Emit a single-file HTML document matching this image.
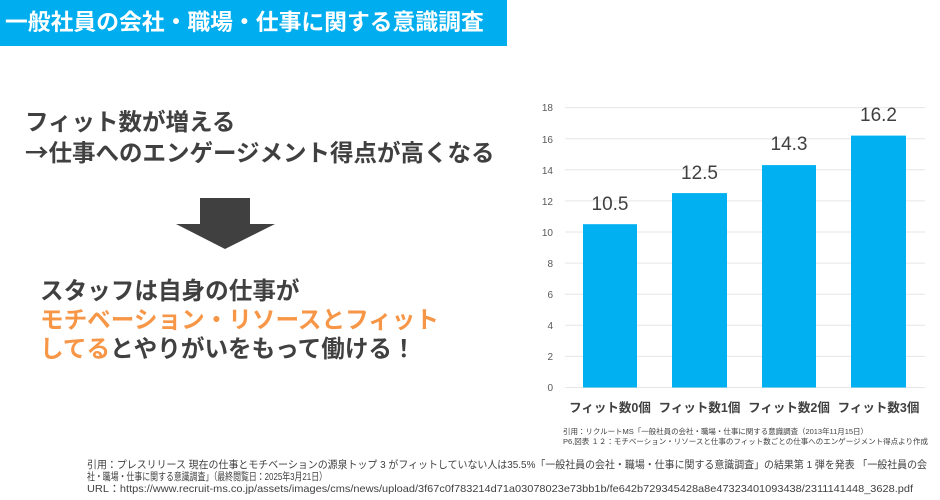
<!DOCTYPE html>
<html><head><meta charset="utf-8"><style>
body{margin:0;width:940px;height:500px;background:#fff;position:relative;overflow:hidden;font-family:"Liberation Sans","Noto Sans CJK JP",sans-serif;}
.a{position:absolute;white-space:nowrap;}
</style></head><body>
<div class="a" style="left:0;top:0;width:507px;height:46px;background:#00aeef;"></div>
<div class="a" style="left:5px;top:5px;font-size:22.8px;line-height:34px;color:#fff;font-weight:bold;">一般社員の会社・職場・仕事に関する意識調査</div>
<div class="a" style="left:25px;top:108px;font-size:23.5px;line-height:29px;color:#404040;font-weight:bold;">フィット数が増える<br><span style="font-family:'Noto Sans CJK JP',sans-serif">→</span>仕事へのエンゲージメント得点が高くなる</div>
<svg class="a" style="left:0;top:0" width="940" height="500">
<polygon points="200,198 250,198 250,224 275,224 225,249 176,224 200,224" fill="#404040"/>
<g stroke="#e6e6e6" stroke-width="1">
<line x1="565" x2="925" y1="387.5" y2="387.5"/><line x1="565" x2="925" y1="356.4" y2="356.4"/><line x1="565" x2="925" y1="325.3" y2="325.3"/><line x1="565" x2="925" y1="294.2" y2="294.2"/><line x1="565" x2="925" y1="263.1" y2="263.1"/><line x1="565" x2="925" y1="232" y2="232"/><line x1="565" x2="925" y1="200.9" y2="200.9"/><line x1="565" x2="925" y1="169.8" y2="169.8"/><line x1="565" x2="925" y1="138.7" y2="138.7"/><line x1="565" x2="925" y1="107.6" y2="107.6"/>
</g>
<g font-size="10" fill="#595959" text-anchor="end" font-family="Liberation Sans,sans-serif">
<text x="553" y="391">0</text><text x="553" y="360">2</text><text x="553" y="329">4</text><text x="553" y="298">6</text><text x="553" y="267">8</text><text x="553" y="236">10</text><text x="553" y="205">12</text><text x="553" y="174">14</text><text x="553" y="143">16</text><text x="553" y="111">18</text>
</g>
<g fill="#00b0f0">
<rect x="583" y="224.2" width="54" height="163.3"/>
<rect x="672" y="193.1" width="55" height="194.4"/>
<rect x="762" y="165.1" width="54" height="222.4"/>
<rect x="851" y="135.6" width="55" height="251.9"/>
</g>
<g font-size="19" fill="#404040" text-anchor="middle" font-family="Liberation Sans,sans-serif">
<text x="610" y="210">10.5</text><text x="699.5" y="179">12.5</text><text x="789" y="150">14.3</text><text x="878.5" y="121">16.2</text>
</g>
<g font-size="12.5" fill="#404040" font-weight="bold" text-anchor="middle">
<text x="610" y="412">フィット数0個</text><text x="699.5" y="412">フィット数1個</text><text x="789" y="412">フィット数2個</text><text x="878.5" y="412">フィット数3個</text>
</g>
<g font-size="7.5" fill="#404040">
<text x="563" y="434" textLength="305">引用：リクルートMS「一般社員の会社・職場・仕事に関する意識調査（2013年11月15日）</text>
<text x="563" y="444" textLength="365">P6,図表 １２：モチベーション・リソースと仕事のフィット数ごとの仕事へのエンゲージメント得点より作成</text>
</g>
<g font-size="10.5" fill="#404040">
<text x="87" y="468" textLength="840" lengthAdjust="spacingAndGlyphs">引用：プレスリリース 現在の仕事とモチベーションの源泉トップ 3 がフィットしていない人は35.5%「一般社員の会社・職場・仕事に関する意識調査」の結果第 1 弾を発表 「一般社員の会</text>
<text x="87" y="480" textLength="240" lengthAdjust="spacingAndGlyphs">社・職場・仕事に関する意識調査」（最終閲覧日：2025年3月21日）</text>
<text x="87" y="492" textLength="826" lengthAdjust="spacingAndGlyphs">URL：https://www.recruit-ms.co.jp/assets/images/cms/news/upload/3f67c0f783214d71a03078023e73bb1b/fe642b729345428a8e47323401093438/2311141448_3628.pdf</text>
</g>
</svg>
<div class="a" style="left:40px;top:278px;font-size:23.6px;line-height:29px;color:#404040;font-weight:bold;">スタッフは自身の仕事が<br><span style="color:#f79646">モチベーション・リソースとフィット</span><br><span style="color:#f79646">してる</span>とやりがいをもって働ける！</div>
</body></html>
